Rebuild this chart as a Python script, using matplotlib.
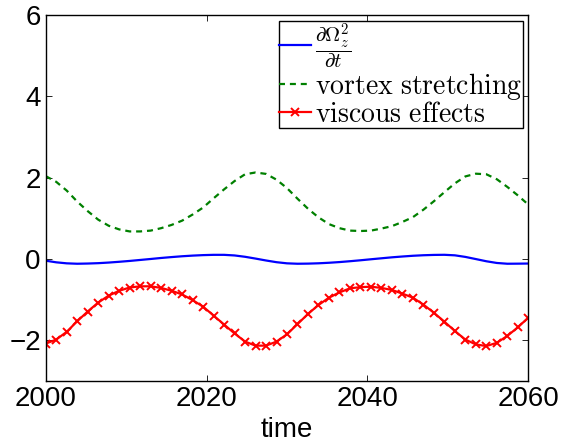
import numpy as np
import matplotlib
matplotlib.use('Agg')
import matplotlib.pyplot as plt

plt.rcParams['font.family'] = ['Liberation Sans', 'DejaVu Sans']
plt.rcParams['mathtext.fontset'] = 'cm'

# sample times (47 samples, 2000..2060)
time = np.linspace(2000, 2060, 47)

# rate of change of the squared vorticity
d_omega2_dt = [-0.04, -0.08, -0.105, -0.115, -0.110, -0.101, -0.086, -0.067, -0.046, -0.022,
               0.002, 0.027, 0.049, 0.069, 0.085, 0.097, 0.104, 0.104, 0.089, 0.056,
               0.012, -0.035, -0.077, -0.105, -0.115, -0.112, -0.104, -0.091, -0.074, -0.053,
               -0.030, -0.005, 0.019, 0.043, 0.063, 0.081, 0.094, 0.102, 0.105, 0.092,
               0.053, 0.000, -0.054, -0.096, -0.115, -0.113, -0.110]

vortex_stretching = [2.04, 1.90, 1.685, 1.415, 1.18, 0.97, 0.82, 0.73, 0.68, 0.68,
                     0.70, 0.76, 0.84, 0.945, 1.095, 1.267, 1.494, 1.714, 1.919, 2.086,
                     2.13, 2.095, 1.953, 1.745, 1.485, 1.238, 1.026, 0.86, 0.76, 0.70,
                     0.69, 0.70, 0.75, 0.81, 0.913, 1.031, 1.214, 1.422, 1.645, 1.862,
                     2.033, 2.10, 2.086, 1.964, 1.775, 1.567, 1.34]

viscous_effects = [-2.08, -1.98, -1.79, -1.53, -1.29, -1.07, -0.90, -0.78, -0.70, -0.67,
                   -0.67, -0.71, -0.78, -0.87, -1.01, -1.17, -1.39, -1.61, -1.83, -2.03,
                   -2.13, -2.13, -2.03, -1.85, -1.60, -1.35, -1.13, -0.95, -0.82, -0.72,
                   -0.69, -0.68, -0.71, -0.76, -0.85, -0.95, -1.12, -1.32, -1.54, -1.77,
                   -1.98, -2.10, -2.14, -2.06, -1.89, -1.68, -1.44]

fig = plt.figure(figsize=(5.61, 4.46), dpi=100)
ax = fig.add_axes([0.0815, 0.1457, 0.8602, 0.8203])

ax.plot(time, d_omega2_dt, color='b', lw=1.6,
        label=r'$\dfrac{\partial\Omega_z^2}{\partial t}$')
ax.plot(time, vortex_stretching, color=(0, 0.5, 0), lw=1.6, ls=(0, (2.7, 2.2)),
        label=r'$\mathrm{vortex\ stretching}$')
ax.plot(time, viscous_effects, color='r', lw=1.6, marker='x', ms=5.5, mew=1.4,
        label=r'$\mathrm{viscous\ effects}$')

ax.set_xlim(2000, 2060)
ax.set_ylim(-3, 6)
ax.set_xticks([2000, 2020, 2040, 2060])
ax.set_yticks([-2, 0, 2, 4, 6])
ax.tick_params(direction='in', top=True, right=True, labelsize=20, length=4.5, width=0.6)
for s in ax.spines.values():
    s.set_linewidth(1.0)
ax.set_xlabel('time', fontsize=20, labelpad=4)

leg = ax.legend(loc='upper right', fontsize=20, handlelength=1.15, handletextpad=0.15,
                borderpad=0.0, labelspacing=0.0, borderaxespad=0.2, fancybox=False,
                numpoints=1, edgecolor='k', framealpha=1)
leg.get_frame().set_linewidth(1.0)
leg.get_texts()[0].set_fontsize(15)

fig.savefig('out.png', dpi=100)
